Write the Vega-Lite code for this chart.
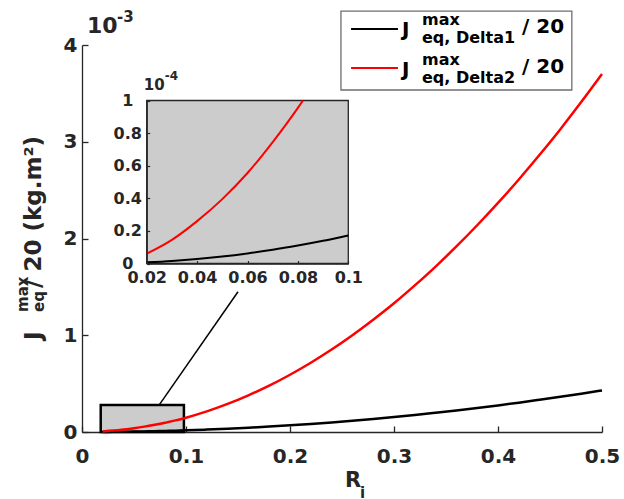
{
  "$schema": "https://vega.github.io/schema/vega-lite/v6.json",
  "width": 520,
  "height": 387,
  "autosize": "none",
  "padding": {"left": 82, "top": 45, "right": 22, "bottom": 67},
  "background": "white",
  "data": {"values": [{}]},
  "config": {
    "view": {"stroke": null},
    "font": "DejaVu Sans",
    "axis": {
      "grid": false,
      "labelFont": "DejaVu Sans",
      "labelFontWeight": "bold",
      "labelColor": "#262626",
      "domainColor": "#262626",
      "tickColor": "#262626",
      "labelOverlap": false,
      "labelFlush": false
    },
    "text": {"font": "DejaVu Sans", "fontWeight": "bold"}
  },
  "datasets": {
    "curves": [
      {"R": 0.02, "series": "Delta1", "J": 0.0007},
      {"R": 0.03, "series": "Delta1", "J": 0.00155},
      {"R": 0.04, "series": "Delta1", "J": 0.00275},
      {"R": 0.05, "series": "Delta1", "J": 0.0043},
      {"R": 0.06, "series": "Delta1", "J": 0.0062},
      {"R": 0.07, "series": "Delta1", "J": 0.0084},
      {"R": 0.08, "series": "Delta1", "J": 0.011},
      {"R": 0.09, "series": "Delta1", "J": 0.0139},
      {"R": 0.1, "series": "Delta1", "J": 0.0172},
      {"R": 0.12, "series": "Delta1", "J": 0.0248},
      {"R": 0.14, "series": "Delta1", "J": 0.0337},
      {"R": 0.16, "series": "Delta1", "J": 0.044},
      {"R": 0.18, "series": "Delta1", "J": 0.0557},
      {"R": 0.2, "series": "Delta1", "J": 0.0688},
      {"R": 0.22, "series": "Delta1", "J": 0.0832},
      {"R": 0.24, "series": "Delta1", "J": 0.099},
      {"R": 0.26, "series": "Delta1", "J": 0.1163},
      {"R": 0.28, "series": "Delta1", "J": 0.135},
      {"R": 0.3, "series": "Delta1", "J": 0.155},
      {"R": 0.32, "series": "Delta1", "J": 0.176},
      {"R": 0.34, "series": "Delta1", "J": 0.199},
      {"R": 0.36, "series": "Delta1", "J": 0.223},
      {"R": 0.38, "series": "Delta1", "J": 0.248},
      {"R": 0.4, "series": "Delta1", "J": 0.275},
      {"R": 0.42, "series": "Delta1", "J": 0.303},
      {"R": 0.44, "series": "Delta1", "J": 0.333},
      {"R": 0.46, "series": "Delta1", "J": 0.364},
      {"R": 0.48, "series": "Delta1", "J": 0.396},
      {"R": 0.5, "series": "Delta1", "J": 0.43},
      {"R": 0.02, "series": "Delta2", "J": 0.006},
      {"R": 0.03, "series": "Delta2", "J": 0.0145},
      {"R": 0.04, "series": "Delta2", "J": 0.026},
      {"R": 0.05, "series": "Delta2", "J": 0.0395},
      {"R": 0.06, "series": "Delta2", "J": 0.0555},
      {"R": 0.07, "series": "Delta2", "J": 0.0745},
      {"R": 0.08, "series": "Delta2", "J": 0.0955},
      {"R": 0.082, "series": "Delta2", "J": 0.1},
      {"R": 0.09, "series": "Delta2", "J": 0.12},
      {"R": 0.1, "series": "Delta2", "J": 0.148},
      {"R": 0.12, "series": "Delta2", "J": 0.213},
      {"R": 0.14, "series": "Delta2", "J": 0.29},
      {"R": 0.16, "series": "Delta2", "J": 0.379},
      {"R": 0.18, "series": "Delta2", "J": 0.479},
      {"R": 0.2, "series": "Delta2", "J": 0.592},
      {"R": 0.22, "series": "Delta2", "J": 0.716},
      {"R": 0.24, "series": "Delta2", "J": 0.852},
      {"R": 0.26, "series": "Delta2", "J": 1.0},
      {"R": 0.28, "series": "Delta2", "J": 1.16},
      {"R": 0.3, "series": "Delta2", "J": 1.33},
      {"R": 0.32, "series": "Delta2", "J": 1.515},
      {"R": 0.34, "series": "Delta2", "J": 1.71},
      {"R": 0.36, "series": "Delta2", "J": 1.918},
      {"R": 0.38, "series": "Delta2", "J": 2.137},
      {"R": 0.4, "series": "Delta2", "J": 2.368},
      {"R": 0.42, "series": "Delta2", "J": 2.61},
      {"R": 0.44, "series": "Delta2", "J": 2.865},
      {"R": 0.46, "series": "Delta2", "J": 3.13},
      {"R": 0.48, "series": "Delta2", "J": 3.41},
      {"R": 0.5, "series": "Delta2", "J": 3.7}
    ]
  },
  "layer": [
    {
      "layer": [
        {
          "mark": {"type": "rect", "fill": "#cccccc", "stroke": "#000000", "strokeWidth": 2.5},
          "encoding": {
            "x": {"datum": 0.018, "type": "quantitative", "scale": {"domain": [0, 0.5], "nice": false, "zero": false},
                  "axis": {"values": [0, 0.1, 0.2, 0.3, 0.4, 0.5], "format": "~g", "title": null, "orient": "bottom", "tickSize": -6, "tickWidth": 1.3, "domainWidth": 1.3, "labelFontSize": 20, "labelPadding": 20}},
            "x2": {"datum": 0.098},
            "y": {"datum": 0, "type": "quantitative", "scale": {"domain": [0, 4], "nice": false, "zero": false},
                  "axis": {"values": [0, 1, 2, 3, 4], "format": "~g", "title": null, "orient": "left", "tickSize": -6, "tickWidth": 1.3, "domainWidth": 1.3, "labelFontSize": 20, "labelPadding": 11}},
            "y2": {"datum": 0.28}
          }
        },
        {
          "mark": {"type": "rule", "color": "#000000", "strokeWidth": 1.5},
          "encoding": {
            "x": {"datum": 0.0743, "type": "quantitative"},
            "x2": {"datum": 0.15},
            "y": {"datum": 0.28, "type": "quantitative"},
            "y2": {"datum": 1.45}
          }
        },
        {
          "data": {"name": "curves"},
          "mark": {"type": "line", "strokeWidth": 2.5, "interpolate": "monotone"},
          "encoding": {
            "x": {"field": "R", "type": "quantitative"},
            "y": {"field": "J", "type": "quantitative"},
            "color": {"field": "series", "type": "nominal", "scale": {"domain": ["Delta1", "Delta2"], "range": ["#000000", "#ff0000"]}, "legend": null}
          }
        },
        {
          "mark": {"type": "text", "text": "10", "fontSize": 22, "align": "left", "baseline": "alphabetic", "dx": 5, "dy": -12, "color": "#262626"},
          "encoding": {"x": {"datum": 0, "type": "quantitative"}, "y": {"datum": 4, "type": "quantitative"}}
        },
        {
          "mark": {"type": "text", "text": "-3", "fontSize": 15, "align": "left", "baseline": "alphabetic", "dx": 35, "dy": -23, "color": "#262626"},
          "encoding": {"x": {"datum": 0, "type": "quantitative"}, "y": {"datum": 4, "type": "quantitative"}}
        },
        {
          "mark": {"type": "text", "text": "J", "fontSize": 23, "angle": 270, "align": "left", "baseline": "alphabetic", "dx": -101.5, "dy": -41, "color": "#262626"},
          "encoding": {"x": {"datum": 0, "type": "quantitative"}, "y": {"datum": 2, "type": "quantitative"}}
        },
        {
          "mark": {"type": "text", "text": "max", "fontSize": 15, "angle": 270, "align": "left", "baseline": "alphabetic", "dx": -73.5, "dy": -54, "color": "#262626"},
          "encoding": {"x": {"datum": 0, "type": "quantitative"}, "y": {"datum": 2, "type": "quantitative"}}
        },
        {
          "mark": {"type": "text", "text": "eq", "fontSize": 15, "angle": 270, "align": "left", "baseline": "alphabetic", "dx": -73.5, "dy": -38, "color": "#262626"},
          "encoding": {"x": {"datum": 0, "type": "quantitative"}, "y": {"datum": 2, "type": "quantitative"}}
        },
        {
          "mark": {"type": "text", "text": "/ 20 (kg.m²)", "fontSize": 23, "angle": 270, "align": "left", "baseline": "alphabetic", "dx": -49.5, "dy": -41, "color": "#262626"},
          "encoding": {"x": {"datum": 0, "type": "quantitative"}, "y": {"datum": 2, "type": "quantitative"}}
        },
        {
          "mark": {"type": "text", "text": "R", "fontSize": 21, "align": "left", "baseline": "alphabetic", "dx": 3, "dy": 55, "color": "#262626"},
          "encoding": {"x": {"datum": 0.25, "type": "quantitative"}, "y": {"datum": 0, "type": "quantitative"}}
        },
        {
          "mark": {"type": "text", "text": "i", "fontSize": 15, "align": "left", "baseline": "alphabetic", "dx": 18, "dy": 66, "color": "#262626"},
          "encoding": {"x": {"datum": 0.25, "type": "quantitative"}, "y": {"datum": 0, "type": "quantitative"}}
        },
        {
          "mark": {"type": "rect", "fill": "#ffffff", "stroke": "#6e6e6e", "strokeWidth": 1.3},
          "encoding": {
            "x": {"datum": 0.249, "type": "quantitative"},
            "x2": {"datum": 0.471},
            "y": {"datum": 4.351, "type": "quantitative"},
            "y2": {"datum": 3.535}
          }
        },
        {
          "mark": {"type": "rule", "color": "#000000", "strokeWidth": 2},
          "encoding": {"x": {"datum": 0.2587, "type": "quantitative"}, "x2": {"datum": 0.3038}, "y": {"datum": 4.165, "type": "quantitative"}}
        },
        {
          "mark": {"type": "rule", "color": "#ff0000", "strokeWidth": 2},
          "encoding": {"x": {"datum": 0.2587, "type": "quantitative"}, "x2": {"datum": 0.3038}, "y": {"datum": 3.762, "type": "quantitative"}}
        },
        {
          "mark": {"type": "text", "text": "J", "fontSize": 20, "align": "left", "baseline": "alphabetic", "dx": 61, "dy": 25, "color": "#000000"},
          "encoding": {"x": {"datum": 0.249, "type": "quantitative"}, "y": {"datum": 4.351, "type": "quantitative"}}
        },
        {
          "mark": {"type": "text", "text": "max", "fontSize": 16, "align": "left", "baseline": "alphabetic", "dx": 81, "dy": 14, "color": "#000000"},
          "encoding": {"x": {"datum": 0.249, "type": "quantitative"}, "y": {"datum": 4.351, "type": "quantitative"}}
        },
        {
          "mark": {"type": "text", "text": "eq, Delta1", "fontSize": 16, "align": "left", "baseline": "alphabetic", "dx": 81, "dy": 32, "color": "#000000"},
          "encoding": {"x": {"datum": 0.249, "type": "quantitative"}, "y": {"datum": 4.351, "type": "quantitative"}}
        },
        {
          "mark": {"type": "text", "text": "/ 20", "fontSize": 20, "align": "left", "baseline": "alphabetic", "dx": 181, "dy": 22, "color": "#000000"},
          "encoding": {"x": {"datum": 0.249, "type": "quantitative"}, "y": {"datum": 4.351, "type": "quantitative"}}
        },
        {
          "mark": {"type": "text", "text": "J", "fontSize": 20, "align": "left", "baseline": "alphabetic", "dx": 61, "dy": 65, "color": "#000000"},
          "encoding": {"x": {"datum": 0.249, "type": "quantitative"}, "y": {"datum": 4.351, "type": "quantitative"}}
        },
        {
          "mark": {"type": "text", "text": "max", "fontSize": 16, "align": "left", "baseline": "alphabetic", "dx": 81, "dy": 54, "color": "#000000"},
          "encoding": {"x": {"datum": 0.249, "type": "quantitative"}, "y": {"datum": 4.351, "type": "quantitative"}}
        },
        {
          "mark": {"type": "text", "text": "eq, Delta2", "fontSize": 16, "align": "left", "baseline": "alphabetic", "dx": 81, "dy": 72, "color": "#000000"},
          "encoding": {"x": {"datum": 0.249, "type": "quantitative"}, "y": {"datum": 4.351, "type": "quantitative"}}
        },
        {
          "mark": {"type": "text", "text": "/ 20", "fontSize": 20, "align": "left", "baseline": "alphabetic", "dx": 181, "dy": 62, "color": "#000000"},
          "encoding": {"x": {"datum": 0.249, "type": "quantitative"}, "y": {"datum": 4.351, "type": "quantitative"}}
        }
      ]
    },
    {
      "layer": [
        {
          "mark": {"type": "rect", "fill": "#cccccc", "stroke": "#262626", "strokeWidth": 1.3},
          "encoding": {
            "x": {"datum": 0.02, "type": "quantitative", "scale": {"domain": [0.02, 0.1], "range": [64.7, 266.3], "nice": false, "zero": false},
                  "axis": {"values": [0.02, 0.04, 0.06, 0.08, 0.1], "format": "~g", "title": null, "orient": "bottom", "offset": -168.5, "tickSize": -3, "tickWidth": 1.2, "domainWidth": 1.3, "labelFontSize": 16, "labelPadding": 9, "zindex": 1}},
            "x2": {"datum": 0.1},
            "y": {"datum": 0, "type": "quantitative", "scale": {"domain": [0, 0.1], "range": [218.5, 55.5], "nice": false, "zero": false},
                  "axis": {"values": [0, 0.02, 0.04, 0.06, 0.08, 0.1], "labelExpr": "format(datum.value*10, '.1~f')", "title": null, "orient": "left", "offset": -64.7, "tickSize": -3, "tickWidth": 1.2, "domainWidth": 1.3, "labelFontSize": 16, "labelAlign": "center", "labelPadding": 22.5, "zindex": 1}},
            "y2": {"datum": 0.1}
          }
        },
        {
          "data": {"name": "curves"},
          "transform": [{"filter": "datum.R <= 0.1 && datum.J <= 0.1"}],
          "mark": {"type": "line", "strokeWidth": 2, "interpolate": "monotone"},
          "encoding": {
            "x": {"field": "R", "type": "quantitative"},
            "y": {"field": "J", "type": "quantitative"},
            "color": {"field": "series", "type": "nominal", "scale": {"domain": ["Delta1", "Delta2"], "range": ["#000000", "#ff0000"]}, "legend": null}
          }
        },
        {
          "mark": {"type": "text", "text": "10", "fontSize": 15, "align": "left", "baseline": "alphabetic", "dx": -3, "dy": -10.5, "color": "#262626"},
          "encoding": {"x": {"datum": 0.02, "type": "quantitative"}, "y": {"datum": 0.1, "type": "quantitative"}}
        },
        {
          "mark": {"type": "text", "text": "-4", "fontSize": 12, "align": "left", "baseline": "alphabetic", "dx": 18, "dy": -20.5, "color": "#262626"},
          "encoding": {"x": {"datum": 0.02, "type": "quantitative"}, "y": {"datum": 0.1, "type": "quantitative"}}
        }
      ]
    }
  ],
  "resolve": {"scale": {"x": "independent", "y": "independent"}, "axis": {"x": "independent", "y": "independent"}}
}
